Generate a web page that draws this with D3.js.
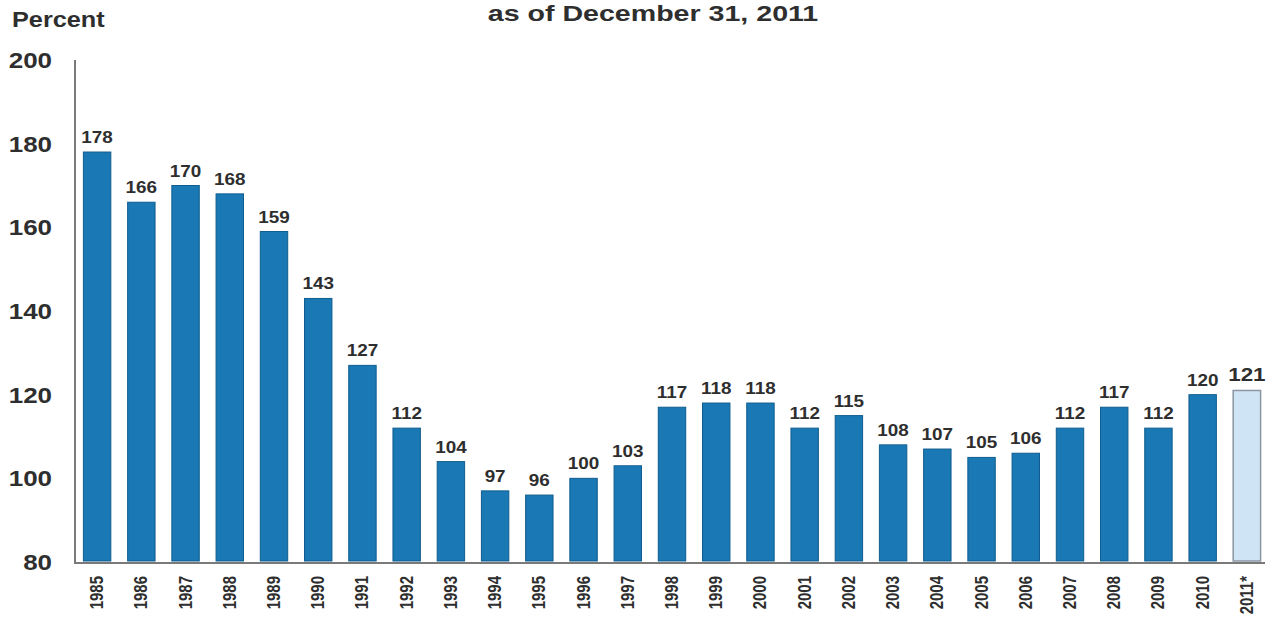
<!DOCTYPE html>
<html><head><meta charset="utf-8">
<script src="https://cdn.jsdelivr.net/npm/d3@7"></script>
<style>
html,body{margin:0;padding:0;background:#fff;}
svg text{font-family:"Liberation Sans",Arial,sans-serif;font-weight:bold;fill:#2e2e2e;}
</style></head>
<body><svg id="c" width="1269" height="622"></svg>
<script>
const years = ["1985","1986","1987","1988","1989","1990","1991","1992","1993","1994","1995","1996","1997","1998","1999","2000","2001","2002","2003","2004","2005","2006","2007","2008","2009","2010","2011*"];
const values = [178,166,170,168,159,143,127,112,104,97,96,100,103,117,118,118,112,115,108,107,105,106,112,117,112,120,121];
const yTicks = [80,100,120,140,160,180,200];
const titleText = "as of December 31, 2011";
const yLabel = "Percent";

const svg = d3.select("#c");
const SX = 1.18;
const x = d3.scaleBand().domain(years).range([75,1269]).paddingInner(0.38).paddingOuter(0.19);
const y = d3.scaleLinear().domain([80,200]).range([562,60]);

function txt(g, tx, ty, s, size, anchor, rot, sx){
  const k = sx || SX;
  return g.append("text")
    .attr("transform", `translate(${tx},${ty})` + (rot ? ` rotate(${rot}) scale(1,${k})` : ` scale(${k},1)`))
    .attr("text-anchor", anchor).style("font-size", size+"px").text(s);
}

txt(svg, 653, 21, titleText, 22, "middle", 0, 1.3);
txt(svg, 12, 27, yLabel, 22, "start", 0, 1.15);

// bars
svg.selectAll("rect.bar").data(values).join("rect")
  .attr("class","bar")
  .attr("x",(d,i)=>x(years[i]))
  .attr("width",x.bandwidth())
  .attr("y",d=>y(d))
  .attr("height",d=>y(80)-y(d)-1)
  .attr("fill",(d,i)=> i===values.length-1 ? "#cfe5f6" : "#1a78b4")
  .attr("stroke",(d,i)=> i===values.length-1 ? "#8d95a3" : "#0f5d8f")
  .attr("stroke-width",(d,i)=> i===values.length-1 ? 1.5 : 1);

// value labels
values.forEach((d,i)=>{
  const last = i===values.length-1;
  txt(svg, x(years[i])+x.bandwidth()/2, y(d)-9, d, last?19:16, "middle");
});

// axes
svg.append("line").attr("x1",75).attr("x2",75).attr("y1",60).attr("y2",563).attr("stroke","#7a7a7a").attr("stroke-width",2);
svg.append("line").attr("x1",74).attr("x2",1265).attr("y1",563).attr("y2",563).attr("stroke","#7a7a7a").attr("stroke-width",2);

yTicks.forEach(t=>{
  txt(svg, 52, y(t)+8, t, 22, "end");
});

years.forEach(yr=>{
  txt(svg, x(yr)+x.bandwidth()/2+6, 576, yr, 15, "end", -90);
});
</script></body></html>
